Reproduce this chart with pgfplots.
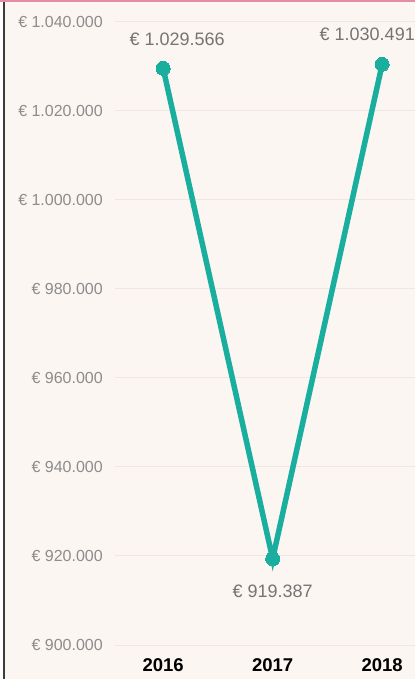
\documentclass[border=0pt]{standalone}
\usepackage{pgfplots}
\pgfplotsset{compat=1.18}
\usepackage{fontspec}
\setmainfont{Liberation Sans}

\definecolor{bgc}{HTML}{FCF6F2}
\definecolor{gridc}{HTML}{F1E7E1}
\definecolor{tickc}{HTML}{8C8C8C}
\definecolor{labc}{HTML}{747474}
\definecolor{linec}{HTML}{1AAE9F}
\definecolor{borderc}{HTML}{3C3C3C}
\definecolor{pinkc}{HTML}{E58CA8}

\begin{document}
\begin{tikzpicture}[x=1pt,y=1pt]
% background and frame
\fill[bgc] (-115,-34) rectangle (300,645);
\fill[white] (-115,-34) rectangle (-112,645);
\fill[borderc] (-112,-34) rectangle (-110,645);
\fill[pinkc] (-115,643) rectangle (300,645);

\begin{axis}[
    at={(0,0)}, anchor=south west,
    scale only axis,
    width=300pt, height=623pt,
    axis line style={draw=none},
    clip=false,
    scaled y ticks=false,
    xmin=-0.44, xmax=2.3,
    ymin=900000, ymax=1040000,
    xtick={0,1,2},
    xticklabels={2016,2017,2018},
    ytick={900000,920000,940000,960000,980000,1000000,1020000,1040000},
    yticklabels={€ 900.000,€ 920.000,€ 940.000,€ 960.000,€ 980.000,€ 1.000.000,€ 1.020.000,€ 1.040.000},
    ymajorgrids,
    grid style={color=gridc, line width=1pt},
    major tick length=0pt,
    xticklabel style={font=\bfseries\fontsize{18.5}{18.5}\selectfont, text=black, anchor=center, yshift=-20pt},
    yticklabel style={font=\fontsize{16}{16}\selectfont, text=tickc, anchor=east, inner sep=0pt, xshift=-12pt},
]
\addplot[color=linec, line width=5.5pt, mark=*, mark size=7pt,
    mark options={fill=linec, draw=linec, line width=0pt}]
    coordinates {(0,1029566)(1,919387)(2,1030491)};

\node[text=labc, font=\fontsize{18}{18}\selectfont] at (axis cs:0,1029566) [xshift=14pt, yshift=29pt] {€ 1.029.566};
\node[text=labc, font=\fontsize{18}{18}\selectfont, anchor=east, inner sep=0pt] at (axis cs:2.3,1030491) [yshift=30pt] {€ 1.030.491};
\node[text=labc, font=\fontsize{18}{18}\selectfont] at (axis cs:1,919387) [yshift=-33pt] {€ 919.387};
\end{axis}
\pgfresetboundingbox
\path (-115,-34) rectangle (300,645);
\end{tikzpicture}
\end{document}
